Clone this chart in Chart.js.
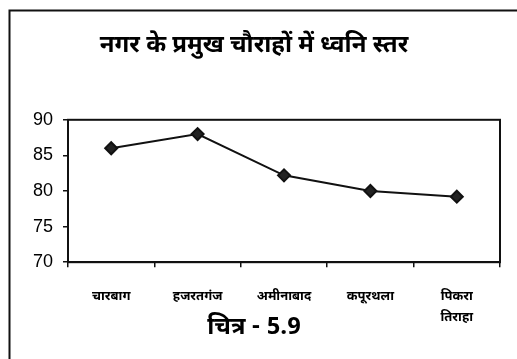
<!DOCTYPE html>
<html>
<head>
<meta charset="utf-8">
<script src="https://cdn.jsdelivr.net/npm/chart.js@4"></script>
<style>
  html, body { margin: 0; padding: 0; background: #fff; }
  #wrap { width: 517px; height: 359px; }
</style>
</head>
<body>
<div id="wrap"><canvas id="noiseChart" width="517" height="359"></canvas></div>
<script>
const chauraahe = ["चारबाग", "हजरतगंज", "अमीनाबाद", "कपूरथला", ["पिकरा", "तिराहा"]];
const dhvaniStar = [86, 88, 82.2, 80, 79.2];
const yTicks = [70, 75, 80, 85, 90];

const devFont = "'Noto Sans Devanagari', 'Noto Sans', 'Lohit Devanagari', 'Mangal', sans-serif";

// frame lines: page border (top + left) and the plot box
const frames = {
  id: "frames",
  afterDraw(c) {
    const ctx = c.ctx;
    const a = c.chartArea;
    ctx.save();
    ctx.strokeStyle = "#111";
    ctx.lineWidth = 2;
    ctx.beginPath();
    ctx.moveTo(9.5, 359);
    ctx.lineTo(9.5, 10.5);
    ctx.lineTo(517, 10.5);
    ctx.stroke();
    ctx.strokeRect(a.left, a.top, a.right - a.left, a.bottom - a.top);
    ctx.restore();
  }
};

const ctx = document.getElementById("noiseChart");

new Chart(ctx, {
  type: "line",
  data: {
    labels: chauraahe,
    datasets: [{
      data: dhvaniStar,
      borderColor: "#111",
      borderWidth: 2,
      pointStyle: "rectRot",
      pointRadius: 6,
      pointBackgroundColor: "#222",
      pointBorderColor: "#111",
      tension: 0
    }]
  },
  options: {
    responsive: false,
    animation: false,
    layout: { padding: { left: 8, right: 17, top: 0, bottom: 0 } },
    plugins: {
      legend: { display: false },
      tooltip: { enabled: false },
      title: {
        display: true,
        text: "नगर के प्रमुख चौराहों में ध्वनि स्तर",
        color: "#000",
        font: { family: devFont, size: 24, weight: "bold" },
        padding: { top: 33, bottom: 58 }
      },
      subtitle: {
        display: true,
        position: "bottom",
        text: "चित्र - 5.9",
        color: "#000",
        font: { family: devFont, size: 24, weight: "bold" },
        padding: { top: -11, bottom: 15 }
      }
    },
    scales: {
      x: {
        offset: true,
        afterFit(axis) { axis.height = 64; },
        grid: { offset: true, drawOnChartArea: false, drawTicks: true, tickLength: 5, color: "#111", lineWidth: 1.5 },
        border: { display: true, color: "#111", width: 2 },
        ticks: {
          color: "#000",
          padding: 20,
          maxRotation: 0,
          font: { family: devFont, size: 13, weight: "bold", lineHeight: 1.6 }
        }
      },
      y: {
        min: 70,
        max: 90,
        afterBuildTicks(axis) { axis.ticks = yTicks.map(v => ({ value: v })); },
        afterFit(axis) { axis.width = 60; },
        grid: { drawOnChartArea: false, drawTicks: true, tickLength: 5, color: "#111", lineWidth: 1.5 },
        border: { display: true, color: "#111", width: 2 },
        ticks: {
          color: "#000",
          padding: 10,
          font: { family: "'Liberation Sans', Arial, sans-serif", size: 18 }
        }
      }
    }
  },
  plugins: [frames]
});
</script>
</body>
</html>
